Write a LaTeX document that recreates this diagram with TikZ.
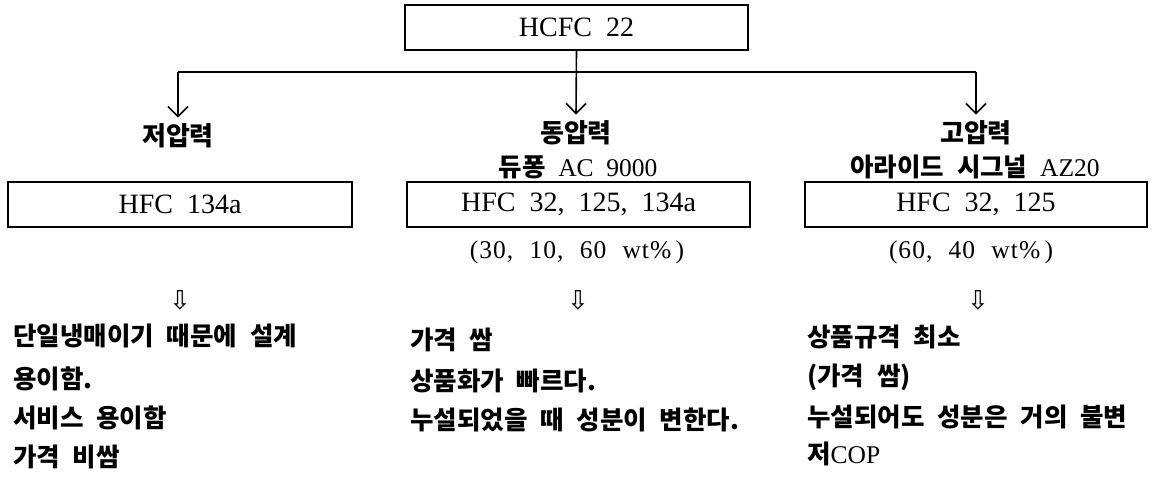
\documentclass[tikz,border=0pt]{standalone}
\usepackage{fontspec}
\setmainfont{Liberation Serif}
\newfontfamily\kr[WordSpace=2.2]{Noto Sans CJK KR}
\newfontfamily\pct[LetterSpace=4,WordSpace=2.2]{Liberation Serif}
\newfontfamily\dv{DejaVu Sans}
\usetikzlibrary{arrows.meta}
\tikzset{
  box/.style={draw, line width=1.4pt, minimum height=45pt, inner sep=0pt,
    font=\fontsize{28}{30}\selectfont},
  lbl/.style={font=\kr\bfseries\fontsize{26}{28}\selectfont, inner xsep=0pt, inner ysep=6pt},
  sub/.style={font=\fontsize{25.5}{28}\selectfont, inner sep=0pt},
  pctx/.style={font=\pct\fontsize{25.5}{28}\selectfont, inner sep=0pt},
  body/.style={font=\kr\bfseries\fontsize{25.5}{28}\selectfont, anchor=west, inner sep=0pt},
  dn/.style={font=\dv\fontsize{26}{28}\selectfont, inner sep=0pt},
  conn/.style={line width=1.6pt},
  arr/.style={line width=1.6pt, -{Straight Barb[length=10pt,width=20pt]}}
}
\begin{document}
\begin{tikzpicture}[x=1pt,y=-1pt]
\useasboundingbox (0,0) rectangle (1153,487);
% top
\node[box, minimum width=343pt] (hcfc) at (576.5,27.5) {HCFC\ \ 22};
\coordinate (jl) at (178,72);
\coordinate (jr) at (976,72);
% labels
\node[lbl] (lowl) at (178,136) {저압력};
\node[lbl] (midl) at (576,133) {동압력};
\node[lbl] (highl) at (976,133) {고압력};
\node[sub] (midsub) at (578,167) {{\kr\bfseries\fontsize{25.5}{28}\selectfont 듀퐁}\ \ AC\ \ 9000};
\node[sub] (highsub) at (975,167) {{\kr\bfseries\fontsize{25.5}{28}\selectfont 아라이드 시그널}\ \ AZ20};
% connectors
\draw[conn] (jl) -- (jr);
\draw[arr] (hcfc.south) -- (midl.north);
\draw[arr] (jl) -- (lowl.north);
\draw[arr] (jr) -- (highl.north);
% boxes
\node[box, minimum width=344pt] (lowbox) at (180,204.5) {HFC\ \ 134a};
\node[box, minimum width=343pt] (midbox) at (578.5,204.5) {HFC\ \ 32,\ \ 125,\ \ 134a};
\node[box, minimum width=342pt] (highbox) at (976,204.5) {HFC\ \ 32,\ \ 125};
% percentages
\node[pctx] (midpct) at (577,252) {(30,\ 10,\ 60\ wt\%\,)};
\node[pctx] (highpct) at (971,252) {(60,\ 40\ wt\%\,)};
% down arrows
\node[dn] (lowdn) at (180,300) {⇩};
\node[dn] (middn) at (578,300) {⇩};
\node[dn] (highdn) at (978,300) {⇩};
% left column
\node[body] (l1) at (13,336) {단일냉매이기 때문에 설계};
\node[body] (l2) at (13,379) {용이함.};
\node[body] (l3) at (13,418) {서비스 용이함};
\node[body] (l4) at (13,457) {가격 비쌈};
% middle column
\node[body] (m1) at (410,340) {가격 쌈};
\node[body] (m2) at (410,381) {상품화가 빠르다.};
\node[body] (m3) at (410,420) {누설되었을 때 성분이 변한다.};
% right column
\node[body] (r1) at (807,337) {상품규격 최소};
\node[body] (r2) at (807,377) {(가격 쌈)};
\node[body] (r3) at (807,417) {누설되어도 성분은 거의 불변};
\node[body] (r4) at (807,454) {저{\rmfamily\mdseries\fontsize{25.5}{28}\selectfont COP}};
\end{tikzpicture}
\end{document}
